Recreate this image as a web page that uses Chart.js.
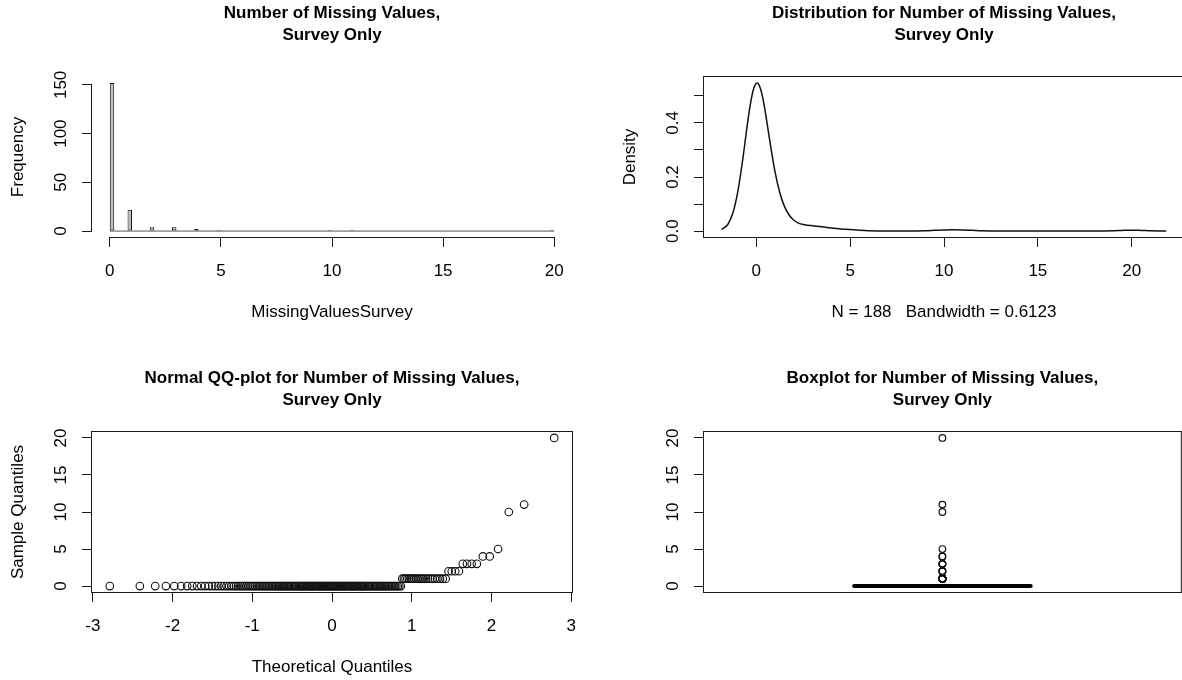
<!DOCTYPE html>
<html>
<head>
<meta charset="utf-8">
<title>Missing Values, Survey Only</title>
<script src="https://cdn.jsdelivr.net/npm/chart.js@4.4.1/dist/chart.umd.min.js"></script>
<style>
  html, body { margin: 0; padding: 0; background: #fff; overflow: hidden; width: 1182px; height: 680px; }
  .panel { position: absolute; }
  .panel canvas { display: block; }
</style>
</head>
<body>
<div class="panel" style="left:0;top:0"><canvas id="histChart" width="591" height="340"></canvas></div>
<div class="panel" style="left:612px;top:0"><canvas id="densityChart" width="574" height="340"></canvas></div>
<div class="panel" style="left:0;top:340px"><canvas id="qqChart" width="591" height="340"></canvas></div>
<div class="panel" style="left:612px;top:340px"><canvas id="boxChart" width="574" height="340"></canvas></div>
<script>
// Missing survey answers per respondent: distinct values and how many respondents have each
const missingValues = [0, 1, 2, 3, 4, 5, 10, 11, 20];
const missingCounts = [152, 22, 4, 4, 2, 1, 1, 1, 1];

// Histogram: bins 0.2 wide, closed on the right (the first bin is [0, 0.2])
const histBinWidth = 0.2;
const histXTicks = [0, 5, 10, 15, 20];
const histYTicks = [0, 50, 100, 150];

// Gaussian kernel density estimate, bandwidth 0.6123, sampled along x
const densityBandwidth = 0.6123;
const densityX = [-1.837, -1.5, -1.25, -1.0, -0.75, -0.5, -0.375, -0.25, -0.125, 0, 0.05, 0.125, 0.25, 0.375, 0.5,
  0.75, 1.0, 1.25, 1.5, 1.75, 2.0, 2.25, 2.5, 2.75, 3.0, 3.25, 3.5, 3.75, 4.0, 4.25, 4.5, 4.75, 5.0,
  5.5, 6.0, 6.5, 7.0, 8.0, 8.5, 9.0, 9.5, 10.0, 10.5, 11.0, 11.5, 12.0, 12.5, 13.0,
  18.0, 18.5, 19.0, 19.5, 20.0, 20.5, 21.0, 21.5, 21.837];
const densityY = [0.0059, 0.0262, 0.0657, 0.1392, 0.2501, 0.3812, 0.4429, 0.4941, 0.5301, 0.5469, 0.5480, 0.5435, 0.5209, 0.4824, 0.4328,
  0.3207, 0.2188, 0.1425, 0.0915, 0.0594, 0.0402, 0.0295, 0.0241, 0.0215, 0.0197, 0.0179, 0.0158, 0.0136, 0.0116, 0.0098, 0.0081, 0.0067, 0.0054,
  0.0028, 0.0009, 0.0002, 0.0000, 0.0000, 0.0002, 0.0009, 0.0027, 0.0044, 0.0050, 0.0044, 0.0027, 0.0009, 0.0002, 0.0000,
  0.0000, 0.0002, 0.0009, 0.0025, 0.0035, 0.0025, 0.0009, 0.0002, 0.0000];
const densityXTicks = [0, 5, 10, 15, 20];
const densityYTicks = [0, 0.1, 0.2, 0.3, 0.4, 0.5];
const densityYLabels = ['0.0', '', '0.2', '', '0.4', ''];

// Normal scores of the lower half of the 188 ordered observations (the upper half mirrors them)
const qqLowerScores = [
  -2.787, -2.410, -2.217, -2.083, -1.978, -1.892, -1.817, -1.752, -1.693, -1.640,
  -1.591, -1.545, -1.502, -1.462, -1.425, -1.389, -1.355, -1.322, -1.290, -1.260,
  -1.231, -1.204, -1.177, -1.150, -1.125, -1.100, -1.076, -1.053, -1.030, -1.007,
  -0.985, -0.964, -0.943, -0.922, -0.902, -0.882, -0.863, -0.844, -0.825, -0.806,
  -0.788, -0.770, -0.752, -0.734, -0.717, -0.700, -0.683, -0.666, -0.649, -0.633,
  -0.617, -0.601, -0.585, -0.569, -0.554, -0.538, -0.523, -0.507, -0.493, -0.477,
  -0.463, -0.448, -0.433, -0.418, -0.404, -0.390, -0.375, -0.361, -0.347, -0.333,
  -0.319, -0.305, -0.291, -0.277, -0.263, -0.250, -0.235, -0.222, -0.208, -0.195,
  -0.181, -0.167, -0.154, -0.140, -0.127, -0.114, -0.100, -0.087, -0.073, -0.060,
  -0.047, -0.033, -0.020, -0.007];
const qqXTicks = [-3, -2, -1, 0, 1, 2, 3];
const qqYTicks = [0, 5, 10, 15, 20];

// Boxplot five-number summary: lower whisker, Q1, median, Q3, upper whisker
const boxStats = [0, 0, 0, 0, 0];
const boxYTicks = [0, 5, 10, 15, 20];

// ---------------------------------------------------------------------------
const FONT = "'Liberation Sans', Arial, Helvetica, sans-serif";
const INK = '#1a1a1a';
Chart.defaults.font.family = FONT;
Chart.defaults.color = '#000';

// ordered sample, expanded from the value counts
const sortedValues = [];
missingValues.forEach((v, i) => { for (let k = 0; k < missingCounts[i]; k++) sortedValues.push(v); });
const nObs = sortedValues.length;

// plot ranges padded by 4% on each side
function padRange(lo, hi) { const d = (hi - lo) * 0.04; return { min: lo - d, max: hi + d }; }

const titleFont = { family: FONT, size: 17, weight: 'bold', lineHeight: '22px' };
const labelFont = { family: FONT, size: 17, lineHeight: '21px' };

function chartTitle(lines, padTop, padBottom) {
  return { display: true, text: lines, fullSize: false, font: titleFont, color: '#000',
           padding: { top: padTop, bottom: padBottom } };
}

function xAxis(range, ticks, title, height, titlePad) {
  return {
    type: 'linear', position: 'bottom', min: range.min, max: range.max, offset: false,
    afterBuildTicks: s => { s.ticks = ticks.map(v => ({ value: v })); },
    afterFit: s => { s.height = height; },
    grid: { offset: false, drawOnChartArea: false, drawTicks: true, tickLength: 10, color: INK, tickColor: INK, lineWidth: 1 },
    border: { display: false },
    ticks: { font: { family: FONT, size: 17, lineHeight: '20px' }, color: '#000', padding: 14,
             maxRotation: 0, minRotation: 0, autoSkip: false, callback: v => String(v) },
    title: { display: !!title, text: title || '', font: labelFont, color: '#000', padding: { top: 0, bottom: titlePad } }
  };
}

function yAxis(range, ticks, title) {
  return {
    type: 'linear', position: 'left', min: range.min, max: range.max,
    afterBuildTicks: s => { s.ticks = ticks.map(v => ({ value: v })); },
    afterFit: s => { s.width = 92; },
    grid: { drawOnChartArea: false, drawTicks: true, tickLength: 10, color: INK, tickColor: INK, lineWidth: 1 },
    border: { display: false },
    ticks: { display: false },
    title: { display: !!title, text: title || '', font: labelFont, color: '#000', padding: { top: 8, bottom: 0 } }
  };
}

// Axis lines / frame and the rotated y tick labels
const rAxes = {
  id: 'rAxes',
  afterDraw(chart, args, o) {
    const { ctx, chartArea: a } = chart;
    const ys = chart.scales.y, xs = chart.scales.x;
    ctx.save();
    ctx.strokeStyle = INK;
    ctx.lineWidth = 1;
    if (o.box) {
      ctx.strokeRect(a.left - 0.5, a.top - 0.5, a.right - a.left + 1, a.bottom - a.top + 1);
    } else {
      const yt = ys.ticks, xt = xs.ticks;
      ctx.beginPath();
      ctx.moveTo(a.left - 0.5, ys.getPixelForValue(yt[0].value));
      ctx.lineTo(a.left - 0.5, ys.getPixelForValue(yt[yt.length - 1].value));
      ctx.moveTo(xs.getPixelForValue(xt[0].value), a.bottom + 0.5);
      ctx.lineTo(xs.getPixelForValue(xt[xt.length - 1].value), a.bottom + 0.5);
      ctx.stroke();
    }
    ctx.fillStyle = '#000';
    ctx.font = '17px ' + FONT;
    ctx.textAlign = 'center';
    ctx.textBaseline = 'middle';
    ys.ticks.forEach((t, i) => {
      const text = o.yLabels ? o.yLabels[i] : String(t.value);
      if (!text) return;
      ctx.save();
      ctx.translate(a.left - 31.5, ys.getPixelForValue(t.value));
      ctx.rotate(-Math.PI / 2);
      ctx.fillText(text, 0, 1);
      ctx.restore();
    });
    ctx.restore();
  }
};

const common = {
  responsive: false, devicePixelRatio: 1, animation: false, events: []
};

// ---- Histogram ------------------------------------------------------------
const histBars = missingValues.map((v, i) => ({ x: v === 0 ? histBinWidth / 2 : v - histBinWidth / 2, y: missingCounts[i] }));
let minGap = Infinity;
for (let i = 1; i < histBars.length; i++) minGap = Math.min(minGap, histBars[i].x - histBars[i - 1].x);

new Chart(document.getElementById('histChart'), {
  type: 'bar',
  data: {
    datasets: [
      { type: 'bar', data: histBars, backgroundColor: '#bdbdbd', borderColor: '#111', borderWidth: 1,
        borderSkipped: false, barPercentage: histBinWidth / minGap, categoryPercentage: 1, order: 0 },
      { type: 'line', data: [{ x: histXTicks[0], y: 0 }, { x: histXTicks[histXTicks.length - 1], y: 0 }],
        borderColor: '#555', borderWidth: 1, pointRadius: 0, order: 1 }
    ]
  },
  options: Object.assign({}, common, {
    layout: { padding: { left: 0, right: 19, top: 0, bottom: 0 } },
    scales: {
      x: xAxis(padRange(0, 20), histXTicks, 'MissingValuesSurvey', 103, 17.5),
      y: yAxis(padRange(0, Math.max(...missingCounts)), histYTicks, 'Frequency')
    },
    plugins: {
      legend: { display: false }, tooltip: { enabled: false },
      title: chartTitle(['Number of Missing Values,', 'Survey Only'], 2, 31),
      rAxes: { box: false }
    }
  }),
  plugins: [rAxes]
});

// ---- Density --------------------------------------------------------------
new Chart(document.getElementById('densityChart'), {
  type: 'scatter',
  data: {
    datasets: [{
      data: densityX.map((x, i) => ({ x, y: densityY[i] })),
      showLine: true, pointRadius: 0, borderColor: '#111', borderWidth: 1.5,
      cubicInterpolationMode: 'monotone', fill: false
    }]
  },
  options: Object.assign({}, common, {
    layout: { padding: { left: 0, right: 2, top: 0, bottom: 0 } },
    scales: {
      x: xAxis(padRange(densityX[0], densityX[densityX.length - 1]), densityXTicks,
               'N = ' + nObs + '   Bandwidth = ' + densityBandwidth.toFixed(4), 103, 17.5),
      y: yAxis(padRange(0, Math.max(...densityY)), densityYTicks, 'Density')
    },
    plugins: {
      legend: { display: false }, tooltip: { enabled: false },
      title: chartTitle(['Distribution for Number of Missing Values,', 'Survey Only'], 2, 31),
      rAxes: { box: true, yLabels: densityYLabels }
    }
  }),
  plugins: [rAxes]
});

// ---- Normal QQ plot -------------------------------------------------------
const qqScores = qqLowerScores.concat(qqLowerScores.slice().reverse().map(v => -v));
const qqPoints = sortedValues.map((v, i) => ({ x: qqScores[i], y: v }));

new Chart(document.getElementById('qqChart'), {
  type: 'scatter',
  data: {
    datasets: [{
      data: qqPoints, pointRadius: 3.8, pointStyle: 'circle', borderColor: '#111', borderWidth: 1.1,
      backgroundColor: 'rgba(0,0,0,0)'
    }]
  },
  options: Object.assign({}, common, {
    layout: { padding: { left: 0, right: 19, top: 0, bottom: 0 } },
    scales: {
      x: xAxis(padRange(qqScores[0], qqScores[qqScores.length - 1]), qqXTicks, 'Theoretical Quantiles', 88, 2.5),
      y: yAxis(padRange(0, Math.max(...sortedValues)), qqYTicks, 'Sample Quantiles')
    },
    plugins: {
      legend: { display: false }, tooltip: { enabled: false },
      title: chartTitle(['Normal QQ-plot for Number of Missing Values,', 'Survey Only'], 27, 21),
      rAxes: { box: true }
    }
  }),
  plugins: [rAxes]
});

// ---- Boxplot --------------------------------------------------------------
const boxCenter = 1, boxHalfWidth = 0.2;
const outliers = sortedValues.filter(v => v < boxStats[0] || v > boxStats[4]).map(v => ({ x: boxCenter, y: v }));

new Chart(document.getElementById('boxChart'), {
  type: 'scatter',
  data: {
    datasets: [
      { data: [{ x: boxCenter - boxHalfWidth, y: boxStats[2] }, { x: boxCenter + boxHalfWidth, y: boxStats[2] }],
        showLine: true, pointRadius: 0, borderColor: '#000', borderWidth: 4, borderCapStyle: 'round' },
      { data: outliers, pointRadius: 3.3, pointStyle: 'circle', borderColor: '#111', borderWidth: 1.2,
        backgroundColor: 'rgba(0,0,0,0)' }
    ]
  },
  options: Object.assign({}, common, {
    layout: { padding: { left: 0, right: 2, top: 0, bottom: 88 } },
    scales: {
      x: { type: 'linear', display: false, min: padRange(0.5, 1.5).min, max: padRange(0.5, 1.5).max },
      y: yAxis(padRange(0, Math.max(...sortedValues)), boxYTicks, '')
    },
    plugins: {
      legend: { display: false }, tooltip: { enabled: false },
      title: chartTitle(['Boxplot for Number of Missing Values,', 'Survey Only'], 27, 21),
      rAxes: { box: true }
    }
  }),
  plugins: [rAxes]
});
</script>
</body>
</html>
